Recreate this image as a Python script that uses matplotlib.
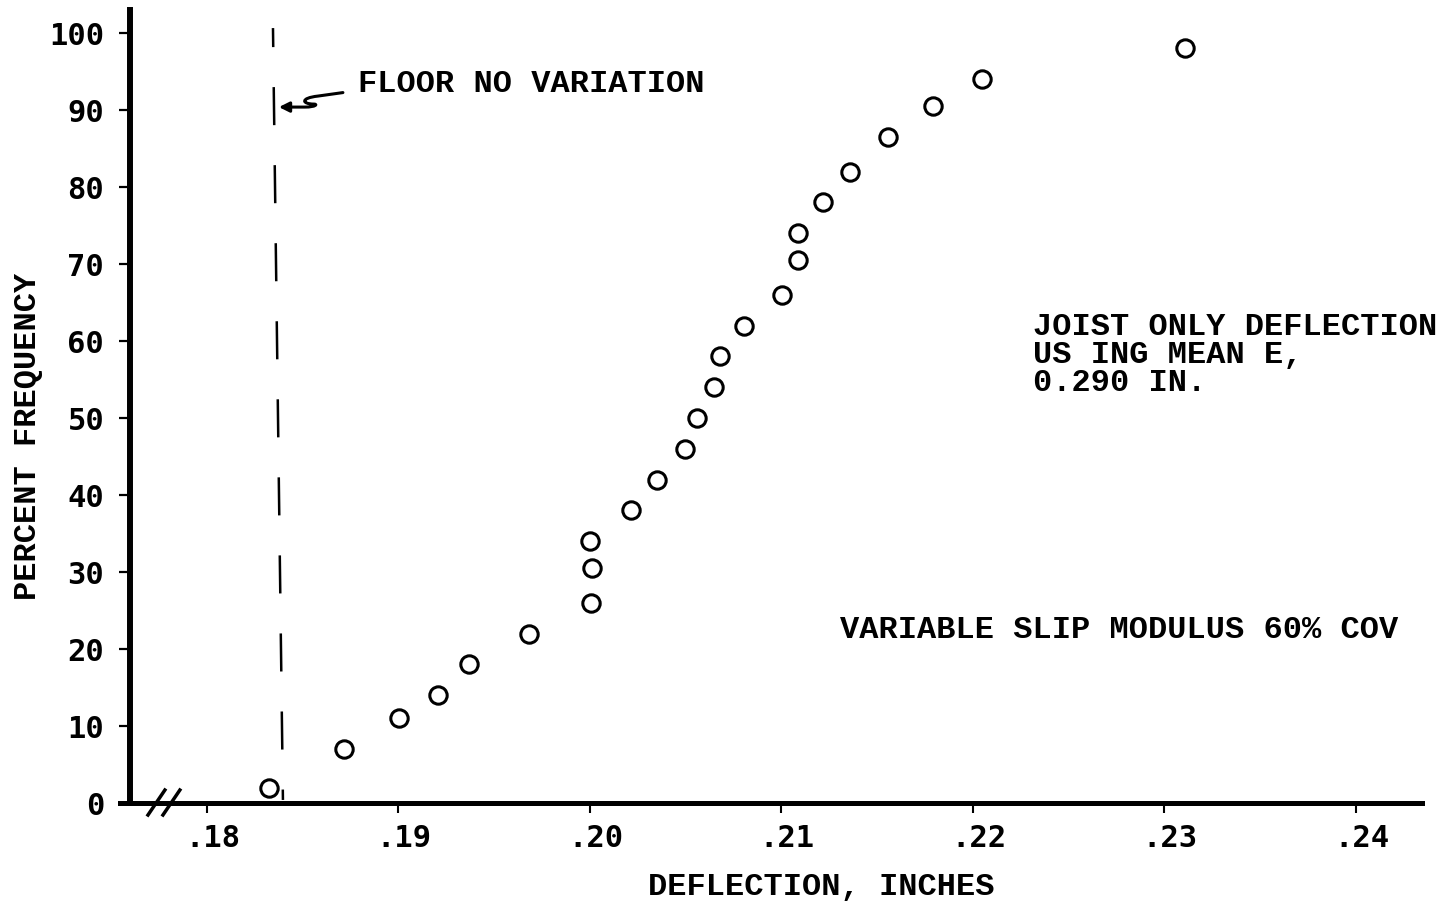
import numpy as np
import matplotlib.pyplot as plt
from matplotlib.patches import FancyArrowPatch
from matplotlib.path import Path
from matplotlib.transforms import ScaledTranslation

plt.rcParams['lines.scale_dashes'] = False

# simulated floor deflections and cumulative frequency
deflection = [0.18324, 0.18718, 0.19003, 0.19206, 0.19368, 0.19681, 0.20005,
              0.20010, 0.20000, 0.20213, 0.20350, 0.20496, 0.20559, 0.20648,
              0.20679, 0.20804, 0.21003, 0.21086, 0.21086, 0.21217, 0.21358,
              0.21556, 0.21791, 0.22047, 0.23107]
freq = [2, 7, 11, 14, 18, 22, 26, 30.5, 34, 38, 42, 46, 50, 54, 58, 62, 66,
        70.5, 74, 78, 82, 86.5, 90.5, 94, 98]

# floor deflection without variation (hand-drawn line, slightly slanted)
floor_x = [0.18345, 0.18397]
floor_y = [100.65, 0.4]

xticks = [0.18, 0.19, 0.20, 0.21, 0.22, 0.23, 0.24]
xticklabels = ['.18', '.19', '.20', '.21', '.22', '.23', '.24']
yticks = np.arange(0, 101, 10)

txt = dict(family='Liberation Mono', weight='bold', fontsize=23)

fig = plt.figure(figsize=(14.42, 9.08), dpi=100)
ax = fig.add_axes([0.0832, 0.1156, 0.9029, 0.8734])

ax.plot(deflection, freq, 'o', ms=12.5, mfc='white', mec='black', mew=2.2,
        zorder=3)

ax.plot(floor_x, floor_y, color='black', lw=1.8,
        linestyle=(13.7, (27.4, 28.8)))

# curly leader from the label to the dashed line
px = lambda p: 0.18 + (p - 207) / 19150.0
py = lambda p: (803 - p) / 7.7
verts = [(px(343), py(92.5)), (px(318), py(96)),
         (px(300), py(98)), (px(302), py(104)), (px(314), py(104)),
         (px(318), py(104)), (px(316), py(107)), (px(305), py(107)),
         (px(279), py(107))]
codes = [Path.MOVETO, Path.LINETO,
         Path.CURVE4, Path.CURVE4, Path.CURVE4,
         Path.CURVE4, Path.CURVE4, Path.CURVE4,
         Path.LINETO]
ax.add_patch(FancyArrowPatch(path=Path(verts, codes),
                             arrowstyle='-|>,head_length=6,head_width=3',
                             color='black', lw=2.2, shrinkA=0, shrinkB=0))

ax.text(0.18789, 93.4, 'FLOOR NO VARIATION', va='center', ha='left', **txt)
ax.text(0.22313, 58.2, 'JOIST ONLY DEFLECTION\nUS ING MEAN E,\n0.290 IN.',
        va='center', ha='left', linespacing=0.92, **txt)
ax.text(0.21306, 22.5, 'VARIABLE SLIP MODULUS 60% COV', va='center',
        ha='left', **txt)

ax.set_xlim(0.17546, 0.24345)
ax.set_ylim(0, 103)

for s in ['top', 'right']:
    ax.spines[s].set_visible(False)
ax.spines['left'].set_position(('data', 0.17598))
ax.spines['left'].set_linewidth(4.3)
ax.spines['bottom'].set_linewidth(3.6)

ax.set_xticks(xticks)
ax.set_xticklabels(xticklabels)
ax.set_yticks(yticks)
ax.tick_params(axis='y', length=8, width=1.6, pad=10.5)
ax.tick_params(axis='x', length=7, width=1.5, pad=8)
for lab in ax.get_xticklabels() + ax.get_yticklabels():
    lab.set_family('DejaVu Sans Mono')
    lab.set_weight('bold')
    lab.set_fontsize(22)
# the leading dot sits left of the tick, so nudge the x labels right
shift = ScaledTranslation(6 / 100, 0, fig.dpi_scale_trans)
for lab in ax.get_xticklabels():
    lab.set_transform(lab.get_transform() + shift)

# axis break marks
for x0 in [0.0215, 0.0330]:
    ax.plot([x0, x0 + 0.013], [-0.0151, 0.0164], color='black', lw=2.5,
            transform=ax.transAxes, clip_on=False)

fig.text(0.5693, 0.0231, 'DEFLECTION, INCHES', ha='center', va='center',
         **txt)
fig.text(0.0194, 0.5198, 'PERCENT FREQUENCY', ha='center', va='center',
         rotation=90, **txt)

fig.savefig('out.png', dpi=100)
